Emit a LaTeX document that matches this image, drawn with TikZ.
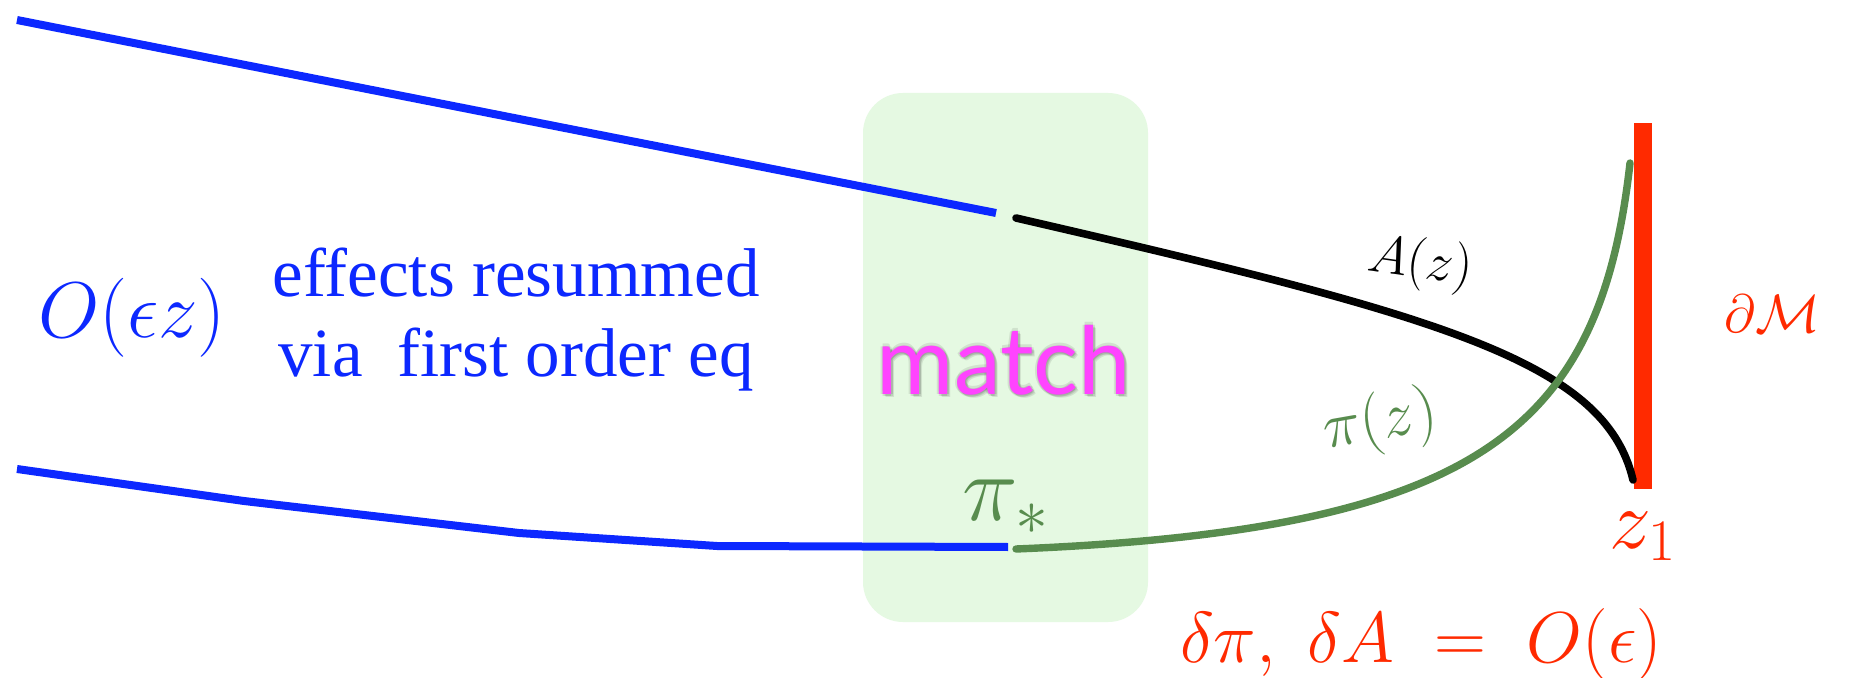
\documentclass[tikz,border=0pt]{standalone}
\usepackage{fix-cm}
\usepackage{fontspec}
\newfontfamily\notefont{Liberation Serif}
\newfontfamily\matchfont{Lato}
\definecolor{inkblue}{RGB}{12,40,255}
\definecolor{curvegreen}{RGB}{88,140,78}
\definecolor{barred}{RGB}{255,42,0}
\definecolor{boxgreen}{RGB}{229,249,226}
\definecolor{matchpink}{RGB}{255,68,255}
\begin{document}
\begin{tikzpicture}[x=0.5pt,y=-0.5pt,
  bluepath/.style={draw=inkblue, line width=4pt, line cap=butt, line join=round},
  blackpath/.style={draw=black, line width=3.8pt, line cap=round},
  greenpath/.style={draw=curvegreen, line width=3.7pt, line cap=round},
  matchbox/.style={fill=boxgreen, draw=none, rounded corners=20pt,
    minimum width=142.5pt, minimum height=264.5pt, inner sep=0pt},
  bluelabel/.style={text=inkblue, inner sep=0pt, anchor=base},
  greenlabel/.style={text=curvegreen, inner sep=0pt},
  redlabel/.style={text=barred, inner sep=0pt, anchor=base},
  matchtext/.style={anchor=base, inner sep=0pt, font=\matchfont\fontsize{47}{47}\selectfont}]
\useasboundingbox (0,0) rectangle (1851,678);
\fill[white] (0,0) rectangle (1851,678);

% matching region
\node[matchbox] (box) at (1005.5,357.5) {};

% boundary wall
\fill[barred] (1634,123) rectangle (1652,489);

% first-order solutions on the far side
\coordinate (upStart) at (17,20);
\coordinate (upEnd) at (996,213);
\draw[bluepath] (upStart) -- (upEnd);
\coordinate (lowStart) at (17,469);
\coordinate (lowEnd) at (1008,547);
\draw[bluepath] (lowStart) -- (244,501) -- (519,533) -- (717,546) -- (lowEnd);

% near-boundary profiles
\coordinate (Astart) at (1016,218);
\coordinate (Aend) at (1633,480);
\draw[blackpath] (Astart) .. controls (1436,315) and (1605,360) .. (Aend);
\coordinate (pistart) at (1016,549);
\coordinate (piend) at (1630,163);
\draw[greenpath] (pistart) .. controls (1480,530) and (1600,430) .. (piend);

% labels
\node[bluelabel, font=\fontsize{39.5}{40}\selectfont] (order) at (132,338) {$O(\epsilon z)$};
\node[bluelabel, font=\notefont\fontsize{34.5}{40}\selectfont] (noteA) at (516,297) {effects resummed};
\node[bluelabel, font=\notefont\fontsize{34.5}{40}\selectfont] (noteB) at (516,377) {via\ \ first order eq};

\foreach \dx/\dy in {-2/0,2/0,0/-2,0/2,2/2,3/3}
  \node[matchtext, text=black, text opacity=0.09] at (1004+\dx,394+\dy) {match};
\node[matchtext, text=matchpink] (match) at (1004,394) {match};

\node[greenlabel, anchor=base, font=\fontsize{47}{47}\selectfont] (pistar) at (1006,520) {$\pi_*$};
\node[inner sep=0pt, rotate=-8, font=\fontsize{27}{27}\selectfont] (Alabel) at (1420,264) {$A(z)$};
\node[greenlabel, rotate=10, font=\fontsize{32}{32}\selectfont] (pilabel) at (1380,423) {$\pi(z)$};
\node[redlabel, font=\fontsize{27}{27}\selectfont] (bdry) at (1772,333) {$\partial\mathcal{M}$};
\node[redlabel, font=\fontsize{42}{42}\selectfont] (zone) at (1643,548) {$z_1$};
\node[redlabel, font=\fontsize{36}{36}\selectfont] (shift) at (1421,662) {$\delta\pi,\;\delta A\;=\;O(\epsilon)$};
\end{tikzpicture}
\end{document}
